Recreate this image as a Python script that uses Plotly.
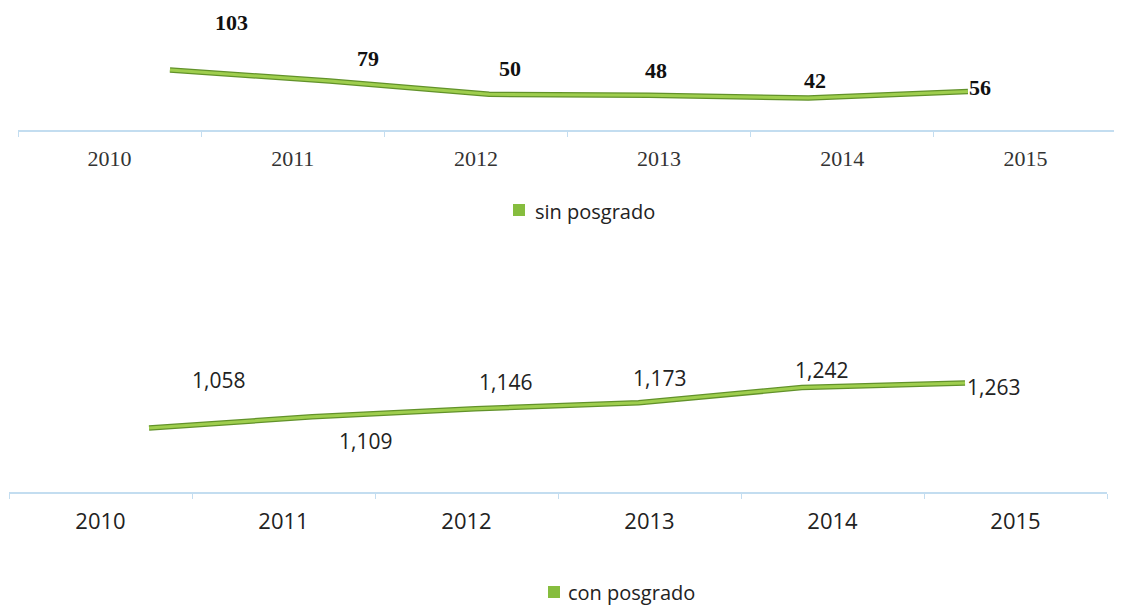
import plotly.graph_objects as go

# ---- data ----
years = ['2010', '2011', '2012', '2013', '2014', '2015']
sin_posgrado = [103, 79, 50, 48, 42, 56]
con_posgrado = [1058, 1109, 1146, 1173, 1242, 1263]

# label offsets (pixels, dx, dy-down) mimicking the 3D placement
top_label_offsets = [(62, -48), (38, -23), (21, -26), (7, -25), (7, -18), (12, -4)]
bot_label_offsets = [(69, -48), (53, 24), (30, -27), (21, -25), (20, -18), (28, 4)]

W, H = 1122, 605
OFF = 8  # page body margin


def px(p):
    return (p - OFF) / W


def py(p):
    return 1 - (p - OFF) / H


AXIS_BLUE = '#c3ddf0'
DARK_GREEN = '#62922a'
LIGHT_GREEN = '#9fce4e'
LEG_GREEN = '#86bd3e'
idx = list(range(len(years)))

fig = go.Figure()

# invisible traces to populate the category axes
fig.add_trace(go.Scatter(x=years, y=sin_posgrado, xaxis='x', yaxis='y', mode='lines',
                         opacity=0, showlegend=False, hoverinfo='skip'))
fig.add_trace(go.Scatter(x=years, y=con_posgrado, xaxis='x2', yaxis='y2', mode='lines',
                         opacity=0, showlegend=False, hoverinfo='skip'))

# ribbon-like lines (dark underside + light top)
for xa, ya, vals in (('x3', 'y', sin_posgrado), ('x4', 'y2', con_posgrado)):
    fig.add_trace(go.Scatter(x=idx, y=vals, xaxis=xa, yaxis=ya, mode='lines',
                             line=dict(color=DARK_GREEN, width=5.5), showlegend=False,
                             hoverinfo='skip'))
    fig.add_trace(go.Scatter(x=idx, y=vals, xaxis=xa, yaxis=ya, mode='lines',
                             line=dict(color=LIGHT_GREEN, width=3), showlegend=False,
                             hovertemplate='%{y}<extra></extra>'))

annotations = []
for i, v in enumerate(sin_posgrado):
    dx, dy = top_label_offsets[i]
    annotations.append(dict(x=i, y=v, xref='x3', yref='y', text=str(v), showarrow=False,
                            xshift=dx, yshift=-dy,
                            font=dict(family='Liberation Serif', size=22, color='#111111',
                                      weight='bold')))
for i, v in enumerate(con_posgrado):
    dx, dy = bot_label_offsets[i]
    annotations.append(dict(x=i, y=v, xref='x4', yref='y2', text=f'{v:,}', showarrow=False,
                            xshift=dx, yshift=-dy,
                            font=dict(family='Open Sans', size=21, color='#222222')))

# legends (text + square marker)
annotations.append(dict(x=px(533), y=py(211), xref='paper', yref='paper', showarrow=False,
                        xanchor='left', yanchor='middle', text='sin posgrado',
                        font=dict(family='Open Sans', size=20, color='#222222')))
annotations.append(dict(x=px(566), y=py(592), xref='paper', yref='paper', showarrow=False,
                        xanchor='left', yanchor='middle', text='con posgrado',
                        font=dict(family='Open Sans', size=20, color='#222222')))
shapes = [
    dict(type='rect', xref='paper', yref='paper', x0=px(513), x1=px(525), y0=py(216), y1=py(204),
         fillcolor=LEG_GREEN, line=dict(width=0)),
    dict(type='rect', xref='paper', yref='paper', x0=px(548), x1=px(560), y0=py(598), y1=py(586),
         fillcolor=LEG_GREEN, line=dict(width=0)),
]

top_dom = [px(18), px(1117)]
bot_dom = [px(9), px(1107)]

common_cat = dict(type='category', categoryarray=years, range=[-0.5, 5.5], showline=True,
                  linecolor=AXIS_BLUE, linewidth=1.5, showgrid=False, zeroline=False,
                  tickson='boundaries', ticks='outside', ticklen=5, tickcolor=AXIS_BLUE,
                  fixedrange=True)

fig.update_layout(
    width=W, height=H,
    margin=dict(l=0, r=0, t=0, b=0),
    paper_bgcolor='white', plot_bgcolor='white',
    showlegend=False,
    xaxis=dict(domain=top_dom, anchor='y', ticklabelstandoff=8,
               tickfont=dict(family='Liberation Serif', size=22, color='#333333'),
               **common_cat),
    xaxis2=dict(domain=bot_dom, anchor='y2', ticklabelstandoff=9,
                tickfont=dict(family='Open Sans', size=22, color='#222222'),
                **common_cat),
    xaxis3=dict(overlaying='x', anchor='y', range=[-0.952, 5.934], visible=False),
    xaxis4=dict(overlaying='x2', anchor='y2', range=[-0.858, 5.870], visible=False),
    yaxis=dict(domain=[py(130), py(10)], range=[-27.7, 233.7], visible=False),
    yaxis2=dict(domain=[py(492), py(340)], range=[766.4, 1458.9], visible=False),
    annotations=annotations,
    shapes=shapes,
)

fig.write_html('out.html')
